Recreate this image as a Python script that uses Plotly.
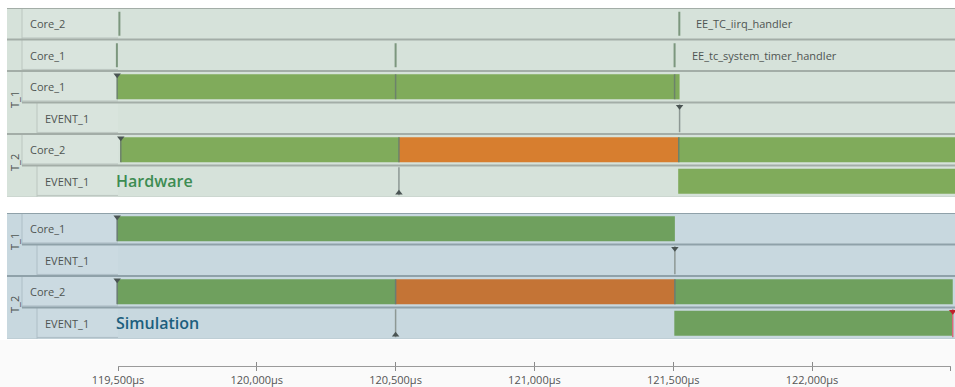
import plotly.graph_objects as go

# ---------------- trace data (times in µs) ----------------
# Rows of the hardware trace, top to bottom, with their task group
hw_labels = ["Core_2", "Core_1", "Core_1", "EVENT_1", "Core_2", "EVENT_1"]
hw_groups = [None, None, "T_1", "T_1", "T_2", "T_2"]

# Rows of the simulated trace
sim_labels = ["Core_1", "EVENT_1", "Core_2", "EVENT_1"]
sim_groups = ["T_1", "T_1", "T_2", "T_2"]

# Task state segments: row index, start, end, state
hw_seg_row = [2, 2, 2, 4, 4, 4, 5]
hw_seg_start = [119497, 120500, 121505, 119510, 120512, 121520, 121518]
hw_seg_end = [120500, 121505, 121523, 120512, 121520, 122520, 122520]
hw_seg_state = ["RUNNING", "RUNNING", "RUNNING", "RUNNING", "READY", "RUNNING", "RUNNING"]

sim_seg_row = [0, 2, 2, 2, 3]
sim_seg_start = [119497, 119497, 120500, 121506, 121504]
sim_seg_end = [121506, 120500, 121506, 122507, 122507]
sim_seg_state = ["RUNNING", "RUNNING", "READY", "RUNNING", "RUNNING"]

# Interrupt handler calls on the core rows of the hardware trace
hw_isr_row = [0, 0, 1, 1, 1]
hw_isr_time = [119505, 121522, 119496, 120500, 121505]
hw_isr_names = {0: "EE_TC_iirq_handler", 1: "EE_tc_system_timer_handler"}

# Task activations
hw_act_row = [2, 4]
hw_act_time = [119497, 119510]
sim_act_row = [0, 2]
sim_act_time = [119497, 119497]

# Event markers
hw_evt_row = [3, 5]
hw_evt_time = [121523, 120512]
hw_evt_kind = ["set", "wait"]
sim_evt_row = [1, 3, 3]
sim_evt_time = [121506, 120500, 122507]
sim_evt_kind = ["set", "wait", "limit"]

# Time axis
tick_vals = [119500, 120000, 120500, 121000, 121500, 122000, 122500]
tick_text = ["119,500µs", "120,000µs", "120,500µs", "121,000µs", "121,500µs", "122,000µs", ""]

# ---------------- geometry ----------------
W, H = 955, 387
X_PANEL, X_GROUP, X_SUB, X_LABEL = 7, 22, 37, 118
ROW_PX = 31.5
HW_TOP, SIM_TOP = 8, 213
AXIS_Y = 366
T0, T0_PX, PX_PER_US = 119500, 118, 0.2776
FONT = "Open Sans"
LINE_SCALE = 1.4  # plotly draws line-ns symbols 1.4x their marker size


def px_to_t(px):
    return T0 + (px - T0_PX) / PX_PER_US


def t_to_px(t):
    return T0_PX + (t - T0) * PX_PER_US


def y_domain(top, n):
    return [1 - (top + n * ROW_PX) / H, 1 - top / H]


def vline_size(length_px):
    return length_px / LINE_SCALE


X_RANGE = [px_to_t(0), px_to_t(W)]

HW_STYLE = dict(bg="#d6e2da", box="#d9e4dd", border="#bcc6c0", sep="#a3ada7",
                edge="#c3ccc6", run="#80ab5b", ready="#d77e2f", title="#3d8c52",
                bound="#6c826b")
SIM_STYLE = dict(bg="#c8d8df", box="#cbdae1", border="#aebec6", sep="#8fa1a9",
                 edge="#b4c4cb", run="#6fa05e", ready="#c47436", title="#1c5f7e",
                 bound="#6a7c72")

fig = go.Figure()
shapes, annotations = [], []


def px(x):
    return x / W


def add_panel(xa, ya, labels, groups, st, seg, isr, acts, evts, title):
    n = len(labels)
    yref = ya
    # panel background
    shapes.append(dict(type="rect", xref="paper", yref=yref, x0=px(X_PANEL), x1=1,
                       y0=-0.5, y1=n - 0.5, fillcolor=st["bg"], line_width=0, layer="below"))
    # group column with rotated task names
    k = 0
    while k < n:
        j = k
        while j + 1 < n and groups[k] is not None and groups[j + 1] == groups[k]:
            j += 1
        if groups[k] is not None:
            annotations.append(dict(xref="paper", yref=yref, x=px((X_PANEL + X_GROUP) / 2 + 0.5),
                                    y=(k + j) / 2 - 0.08, xanchor="center", yanchor="middle",
                                    text=groups[k], textangle=-90, showarrow=False,
                                    font=dict(family=FONT, size=11, color="#4f5552")))
        k = j + 1
    # row label boxes
    for r, lab in enumerate(labels):
        sub = r > 0 and groups[r] is not None and groups[r] == groups[r - 1]
        x0 = X_SUB if sub else X_GROUP
        shapes.append(dict(type="rect", xref="paper", yref=yref, x0=px(x0), x1=px(X_LABEL),
                           y0=r - 0.5, y1=r + 0.5, fillcolor=st["box"], line_width=0, layer="below"))
        shapes.append(dict(type="line", xref="paper", yref=yref, x0=px(x0), x1=px(x0),
                           y0=r - 0.5, y1=r + 0.5, line=dict(color=st["border"], width=1), layer="below"))
        shapes.append(dict(type="line", xref="paper", yref=yref, x0=px(x0), x1=px(X_LABEL),
                           y0=r + 0.45, y1=r + 0.45, line=dict(color=st["border"], width=1), layer="below"))
        annotations.append(dict(xref="paper", yref=yref, x=px(x0 + 6), y=r, xanchor="left",
                                text=lab, showarrow=False,
                                font=dict(family=FONT, size=11, color="#4f5552")))
    # row separators
    for r in range(n):
        inner = r > 0 and groups[r] is not None and groups[r] == groups[r - 1]
        shapes.append(dict(type="line", xref="paper", yref=yref,
                           x0=px(X_GROUP if inner else X_PANEL), x1=1, y0=r - 0.5, y1=r - 0.5,
                           line=dict(color=st["sep"], width=2), layer="below"))
    shapes.append(dict(type="line", xref="paper", yref=yref, x0=px(X_PANEL), x1=1,
                       y0=n - 0.5, y1=n - 0.5, line=dict(color=st["edge"], width=1), layer="below"))

    # state segments
    rows, starts, ends, states = seg
    for state, color in (("RUNNING", st["run"]), ("READY", st["ready"])):
        idx = [i for i, s in enumerate(states) if s == state]
        fig.add_trace(go.Bar(orientation="h", y=[rows[i] for i in idx],
                             base=[starts[i] for i in idx],
                             x=[ends[i] - starts[i] for i in idx],
                             width=0.8, marker=dict(color=color, line_width=0),
                             xaxis=xa, yaxis=ya, hoverinfo="skip", showlegend=False))
    # segment boundaries on task rows
    core_idx = [i for i in range(len(rows)) if labels[rows[i]] != "EVENT_1"]
    fig.add_trace(go.Scatter(x=[starts[i] for i in core_idx], y=[rows[i] for i in core_idx],
                             mode="markers", xaxis=xa, yaxis=ya, hoverinfo="skip", showlegend=False,
                             marker=dict(symbol="line-ns", size=vline_size(25),
                                         line=dict(color=st["bound"], width=1.5))))
    # interrupt calls
    if isr is not None:
        i_rows, i_times, names = isr
        fig.add_trace(go.Scatter(x=i_times, y=i_rows, mode="markers", xaxis=xa, yaxis=ya,
                                 hoverinfo="skip", showlegend=False,
                                 marker=dict(symbol="line-ns", size=vline_size(24),
                                             line=dict(color="#7c977e", width=2))))
        for r, name in names.items():
            last = max(t for rr, t in zip(i_rows, i_times) if rr == r)
            annotations.append(dict(xref=xa, yref=yref, x=last, y=r, xanchor="left", xshift=15,
                                    text=name, showarrow=False,
                                    font=dict(family=FONT, size=11, color="#4f5552")))
    # activations
    a_rows, a_times = acts
    fig.add_trace(go.Scatter(x=a_times, y=[r - 0.37 for r in a_rows], mode="markers",
                             xaxis=xa, yaxis=ya, hoverinfo="skip", showlegend=False,
                             marker=dict(symbol="triangle-down", size=6.5, color="#4a5453")))
    # events
    e_rows, e_times, e_kinds = evts
    for kind, sym, off, lcol, mcol in (("set", "triangle-down", -0.37, "#8d9894", "#4a5453"),
                                       ("wait", "triangle-up", 0.37, "#8d9894", "#4a5453"),
                                       ("limit", "triangle-down", -0.37, "#d9697a", "#c0202c")):
        idx = [i for i, kd in enumerate(e_kinds) if kd == kind]
        if not idx:
            continue
        ex = [e_times[i] for i in idx]
        ey = [e_rows[i] for i in idx]
        fig.add_trace(go.Scatter(x=ex, y=ey, mode="markers", xaxis=xa, yaxis=ya,
                                 hoverinfo="skip", showlegend=False,
                                 marker=dict(symbol="line-ns", size=vline_size(28),
                                             line=dict(color=lcol, width=1.5))))
        fig.add_trace(go.Scatter(x=ex, y=[y + off for y in ey], mode="markers", xaxis=xa, yaxis=ya,
                                 hoverinfo="skip", showlegend=False,
                                 marker=dict(symbol=sym, size=6.5, color=mcol)))
    annotations.append(dict(xref="paper", yref=yref, x=px(114), y=n - 1, xanchor="left",
                            text=title, showarrow=False,
                            font=dict(family=FONT, size=16, weight=600, color=st["title"])))


add_panel("x", "y", hw_labels, hw_groups, HW_STYLE,
          (hw_seg_row, hw_seg_start, hw_seg_end, hw_seg_state),
          (hw_isr_row, hw_isr_time, hw_isr_names),
          (hw_act_row, hw_act_time), (hw_evt_row, hw_evt_time, hw_evt_kind), "Hardware")
add_panel("x2", "y2", sim_labels, sim_groups, SIM_STYLE,
          (sim_seg_row, sim_seg_start, sim_seg_end, sim_seg_state),
          None,
          (sim_act_row, sim_act_time), (sim_evt_row, sim_evt_time, sim_evt_kind), "Simulation")

# light strip under the simulation panel
shapes.append(dict(type="rect", xref="paper", yref="paper", x0=0, x1=1,
                   y0=0, y1=1 - (SIM_TOP + len(sim_labels) * ROW_PX + 1) / H,
                   fillcolor="#fafafa", line_width=0, layer="below"))

# anchors for the time scale axes
for xa in ("x3", "x4"):
    fig.add_trace(go.Scatter(x=[T0], y=[0], mode="markers", xaxis=xa, yaxis="y2",
                             marker=dict(opacity=0), hoverinfo="skip", showlegend=False))

axis_pos = 1 - AXIS_Y / H
scale_dom = [px(T0_PX), px(t_to_px(tick_vals[-1]))]
hidden = dict(visible=False, showgrid=False, zeroline=False, fixedrange=True, automargin=False)

fig.update_layout(
    template="none",
    width=W, height=H, margin=dict(l=0, r=0, t=0, b=0, pad=0, autoexpand=False),
    paper_bgcolor="white", plot_bgcolor="rgba(0,0,0,0)",
    barmode="overlay", showlegend=False,
    font=dict(family=FONT),
    xaxis=dict(hidden, domain=[0, 1], range=X_RANGE, anchor="y"),
    xaxis2=dict(hidden, domain=[0, 1], range=X_RANGE, anchor="y2"),
    yaxis=dict(hidden, domain=y_domain(HW_TOP, len(hw_labels)),
               range=[len(hw_labels) - 0.5, -0.5], anchor="x"),
    yaxis2=dict(hidden, domain=y_domain(SIM_TOP, len(sim_labels)),
                range=[len(sim_labels) - 0.5, -0.5], anchor="x2"),
    xaxis3=dict(domain=scale_dom, range=[tick_vals[0], tick_vals[-1]], anchor="free",
                position=axis_pos, showline=True, linecolor="#9a9a9a", linewidth=1,
                ticks="outside", ticklen=4, tickcolor="#8a8a8a", tickwidth=1,
                tickvals=tick_vals, ticktext=tick_text, showgrid=False, zeroline=False,
                automargin=False,
                tickfont=dict(family=FONT, size=11, color="#555555"), fixedrange=True),
    xaxis4=dict(overlaying="x3", range=[tick_vals[0], tick_vals[-1]], anchor="free",
                position=axis_pos, showline=False, ticks="inside", ticklen=4,
                tickcolor="#8a8a8a", tickwidth=1, tickvals=tick_vals, automargin=False,
                showticklabels=False, showgrid=False, zeroline=False, fixedrange=True),
    shapes=shapes, annotations=annotations,
)

fig.write_html("out.html")
